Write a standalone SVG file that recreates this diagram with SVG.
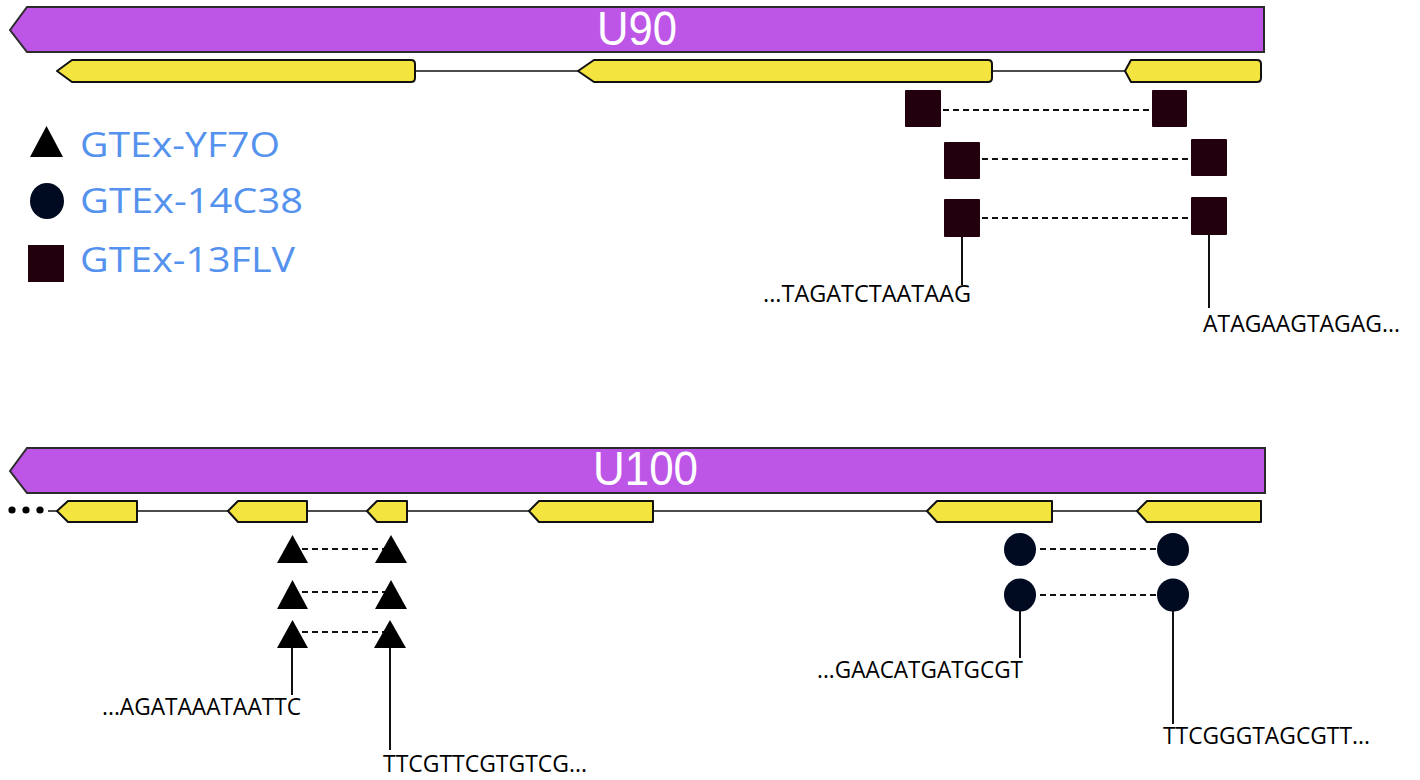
<svg xmlns="http://www.w3.org/2000/svg" width="1420" height="780" viewBox="0 0 1420 780">
<style>
.bar{fill:#bd55e7;stroke:#2b2b2b;stroke-width:2;stroke-linejoin:miter}
.exon{fill:#f3e440;stroke:#111;stroke-width:2;stroke-linejoin:round}
.intron{stroke:#111;stroke-width:1.6;fill:none}
.dash{stroke:#111;stroke-width:2;stroke-dasharray:6 4;fill:none}
.lead{stroke:#111;stroke-width:2;fill:none}
.sq{fill:#22000e}
.ci{fill:#000a20}
.tri{fill:#000}
.title{font-family:"Liberation Sans","Open Sans",sans-serif;font-size:48px;fill:#fff}
.leg{font-family:"Open Sans","Noto Sans",sans-serif;font-size:34px;fill:#5592ee}
.seq{font-family:"Open Sans","Noto Sans",sans-serif;font-size:24px;fill:#000}
</style>

<g id="connectors">
  <line class="intron" x1="415" y1="71" x2="578" y2="71"/>
  <line class="intron" x1="992" y1="71" x2="1125" y2="71"/>
  <line class="intron" x1="48" y1="511" x2="1137" y2="511"/>
  <line class="dash" x1="923" y1="110" x2="1170" y2="110"/>
  <line class="dash" x1="962" y1="159" x2="1209" y2="159"/>
  <line class="dash" x1="962" y1="218" x2="1209" y2="218"/>
  <line class="lead" x1="962" y1="237" x2="962" y2="285"/>
  <line class="lead" x1="1209" y1="235" x2="1209" y2="308"/>
  <line class="dash" x1="292" y1="549" x2="391" y2="549"/>
  <line class="dash" x1="292" y1="592" x2="391" y2="592"/>
  <line class="dash" x1="292" y1="632" x2="391" y2="632"/>
  <line class="lead" x1="292" y1="646" x2="292" y2="695"/>
  <line class="lead" x1="390" y1="646" x2="390" y2="750"/>
  <line class="dash" x1="1020" y1="549" x2="1173" y2="549"/>
  <line class="dash" x1="1020" y1="595" x2="1173" y2="595"/>
  <line class="lead" x1="1020" y1="611" x2="1020" y2="658"/>
  <line class="lead" x1="1173" y1="611" x2="1173" y2="724"/>
</g>

<g id="U90">
  <polygon class="bar" points="10,30 27,7 1264,7 1264,52 27,52"/>
  <text class="title" x="597" y="45" textLength="80" lengthAdjust="spacingAndGlyphs">U90</text>
</g>

<g id="U90-exon1"><path class="exon" d="M57,71 L72,60 L411,60 Q415,60 415,64 L415,78 Q415,82 411,82 L72,82 Z"/></g>
<g id="U90-exon2"><path class="exon" d="M578,71 L594,60 L988,60 Q992,60 992,64 L992,78 Q992,82 988,82 L594,82 Z"/></g>
<g id="U90-exon3"><path class="exon" d="M1125,71 L1131,60 L1257,60 Q1261,60 1261,64 L1261,78 Q1261,82 1257,82 L1131,82 Z"/></g>

<g id="U90-marks">
  <rect class="sq" x="905" y="90" width="36" height="37" rx="1"/>
  <rect class="sq" x="1152" y="90" width="35" height="37" rx="1"/>
  <rect class="sq" x="944" y="142" width="36" height="37" rx="1"/>
  <rect class="sq" x="1191" y="139" width="36" height="37" rx="1"/>
  <rect class="sq" x="944" y="199" width="36" height="38" rx="1"/>
  <rect class="sq" x="1191" y="197" width="36" height="38" rx="1"/>
</g>

<g id="U90-seq">
  <text class="seq" x="763" y="302" textLength="208" lengthAdjust="spacingAndGlyphs">...TAGATCTAATAAG</text>
  <text class="seq" x="1203" y="332" textLength="197" lengthAdjust="spacingAndGlyphs">ATAGAAGTAGAG...</text>
</g>

<g id="legend">
  <polygon class="tri" points="30,157 63,157 46.5,126"/>
  <text class="leg" x="80" y="157" textLength="200" lengthAdjust="spacingAndGlyphs">GTEx-YF7O</text>
  <ellipse class="ci" cx="47" cy="201" rx="17" ry="18"/>
  <text class="leg" x="80" y="213" textLength="223" lengthAdjust="spacingAndGlyphs">GTEx-14C38</text>
  <rect class="sq" x="28" y="245" width="36" height="37"/>
  <text class="leg" x="80" y="272" textLength="215" lengthAdjust="spacingAndGlyphs">GTEx-13FLV</text>
</g>

<g id="U100">
  <polygon class="bar" points="10,471 27,448 1265,448 1265,493 27,493"/>
  <text class="title" x="593" y="485" textLength="105" lengthAdjust="spacingAndGlyphs">U100</text>
</g>

<g id="U100-dots">
  <circle cx="12" cy="510" r="3.6" fill="#000"/>
  <circle cx="26" cy="510" r="3.6" fill="#000"/>
  <circle cx="40" cy="510" r="3.6" fill="#000"/>
</g>

<g id="U100-exon1"><polygon class="exon" points="57,511 68,501 137,501 137,522 68,522"/></g>
<g id="U100-exon2"><polygon class="exon" points="228,511 238,501 307,501 307,522 238,522"/></g>
<g id="U100-exon3"><polygon class="exon" points="367,511 377,501 407,501 407,522 377,522"/></g>
<g id="U100-exon4"><polygon class="exon" points="529,511 539,501 653,501 653,522 539,522"/></g>
<g id="U100-exon5"><polygon class="exon" points="927,511 937,501 1052,501 1052,522 937,522"/></g>
<g id="U100-exon6"><polygon class="exon" points="1137,511 1147,501 1261,501 1261,522 1147,522"/></g>

<g id="U100-triangles">
  <polygon class="tri" points="277,563 308,563 292.5,535"/>
  <polygon class="tri" points="375,563 407,563 391,535"/>
  <polygon class="tri" points="277,609 308,609 292.5,580"/>
  <polygon class="tri" points="375,609 407,609 391,580"/>
  <polygon class="tri" points="277,648 308,648 292.5,620"/>
  <polygon class="tri" points="374,648 406,648 390,620"/>
</g>

<g id="U100-circles">
  <ellipse class="ci" cx="1020" cy="549.5" rx="16" ry="16.5"/>
  <ellipse class="ci" cx="1173" cy="549.5" rx="16" ry="16.5"/>
  <ellipse class="ci" cx="1020" cy="595" rx="16" ry="16.5"/>
  <ellipse class="ci" cx="1173" cy="595" rx="16" ry="16.5"/>
</g>

<g id="U100-seq">
  <text class="seq" x="102" y="715" textLength="199" lengthAdjust="spacingAndGlyphs">...AGATAAATAATTC</text>
  <text class="seq" x="383" y="772" textLength="204" lengthAdjust="spacingAndGlyphs">TTCGTTCGTGTCG...</text>
  <text class="seq" x="817" y="678" textLength="206" lengthAdjust="spacingAndGlyphs">...GAACATGATGCGT</text>
  <text class="seq" x="1163" y="744" textLength="207" lengthAdjust="spacingAndGlyphs">TTCGGGTAGCGTT...</text>
</g>
</svg>
